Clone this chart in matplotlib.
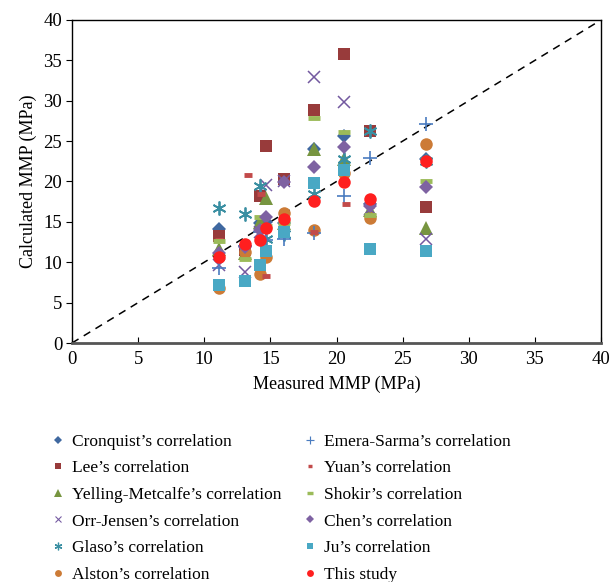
import matplotlib
matplotlib.use("Agg")
import matplotlib.pyplot as plt
from matplotlib.lines import Line2D

plt.rcParams['font.family'] = ['Liberation Serif', 'DejaVu Serif']

# Measured MMP (MPa)
measured = [11.1, 13.1, 14.2, 14.7, 16.0, 18.3, 20.6, 22.5, 26.8]
yuan_x = [11.1, 13.3, 14.3, 14.7, 16.0, 18.3, 20.7, 22.5, 26.8]

cronquist = [14.1, 12.0, 14.8, 15.0, 14.8, 24.0, 25.6, 17.2, 22.8]
lee = [13.2, 11.5, 18.2, 24.4, 20.3, 28.9, 35.8, 26.2, 16.8]
yelling = [11.7, 11.1, 15.0, 18.0, 14.8, 24.0, 22.8, 16.5, 14.2]
orr = [9.7, 8.8, 13.8, 19.6, 20.0, 32.9, 29.9, 16.6, 12.9]
glaso = [16.7, 16.0, 19.5, 12.9, 13.5, 18.5, 22.8, 26.3, 22.5]
alston = [6.8, 11.3, 8.6, 10.6, 16.1, 14.0, 21.0, 15.5, 24.6]
emera = [9.3, 12.0, 13.8, 12.7, 12.9, 13.6, 18.2, 22.9, 27.1]
yuan = [12.8, 20.8, 18.5, 8.3, 14.5, 13.8, 17.2, 17.0, 22.5]
shokir = [12.6, 10.4, 15.6, 14.5, 14.8, 27.9, 26.1, 15.8, 20.0]
chen = [11.1, 11.9, 14.0, 15.6, 19.9, 21.8, 24.3, 17.0, 19.3]
ju = [7.2, 7.7, 9.6, 11.4, 13.7, 19.8, 21.4, 11.7, 11.4]
this_study = [10.6, 12.3, 12.7, 14.2, 15.4, 17.6, 19.9, 17.8, 22.5]

series = [
    ("Cronquist’s correlation", measured, cronquist, dict(marker='D', color='#3F68A0', ms=7.5, mew=0)),
    ("Lee’s correlation", measured, lee, dict(marker='s', color='#983B3B', ms=9, mew=0)),
    ("Yelling-Metcalfe’s correlation", measured, yelling, dict(marker='^', color='#779540', ms=9.5, mew=0)),
    ("Orr-Jensen’s correlation", measured, orr, dict(marker='x', color='#7359A0', ms=9, mew=1.1)),
    ("Glaso’s correlation", measured, glaso, dict(marker=(6, 2, 0), color='#3A8FA2', ms=10, mew=1.3)),
    ("Alston’s correlation", measured, alston, dict(marker='o', color='#CC7B36', ms=9, mew=0)),
    ("Emera-Sarma’s correlation", measured, emera, dict(marker='+', color='#4A7CC0', ms=10, mew=1.2)),
    ("Yuan’s correlation", yuan_x, yuan, dict(marker='_', color='#C24A4A', ms=6, mew=3.5)),
    ("Shokir’s correlation", measured, shokir, dict(marker='_', color='#9BBB59', ms=9, mew=3.5)),
    ("Chen’s correlation", measured, chen, dict(marker='D', color='#7E62A2', ms=7.5, mew=0)),
    ("Ju’s correlation", measured, ju, dict(marker='s', color='#49A8C4', ms=9, mew=0)),
    ("This study", measured, this_study, dict(marker='o', color='#FF1F1F', ms=9, mew=0)),
]

fig = plt.figure(figsize=(6.12, 5.82), dpi=100)
ax = fig.add_axes([72/612, 1-343/582, 529/612, 323/582])

ax.plot([0, 40], [0, 40], linestyle=(0, (5, 4)), color='black', lw=1.1, zorder=1)

handles = []
for name, xs, ys, st in series:
    ax.plot(xs, ys, linestyle='none', marker=st['marker'], color=st['color'],
            markersize=st['ms'], markeredgewidth=st['mew'], zorder=3)
    handles.append(Line2D([], [], linestyle='none', marker=st['marker'], color=st['color'],
                          markersize=st['ms'] * 0.55, markeredgewidth=st['mew'] * 0.7,
                          label=name))

ax.set_xlim(0, 40)
ax.set_ylim(0, 40)
ax.set_xticks(range(0, 41, 5))
ax.set_yticks(range(0, 41, 5))
ax.tick_params(axis='x', direction='in', length=4, labelsize=13.5, pad=6)
ax.tick_params(axis='y', direction='out', length=4, labelsize=13.5, pad=3)
for s in ax.spines.values():
    s.set_linewidth(1.0)
ax.spines['bottom'].set_linewidth(2.0)
ax.spines['bottom'].set_color('#555555')

ax.set_xlabel("Measured MMP (MPa)", fontsize=13, labelpad=5)
ax.set_ylabel("Calculated MMP (MPa)", fontsize=13, labelpad=5)

fig.legend(handles=handles, loc='upper left', bbox_to_anchor=(41/612, 1-425/582),
           ncol=2, frameon=False, fontsize=12.5, handlelength=1.0, handletextpad=0.3,
           columnspacing=1.15, labelspacing=0.6, borderpad=0)

fig.savefig("out.png", dpi=100)
